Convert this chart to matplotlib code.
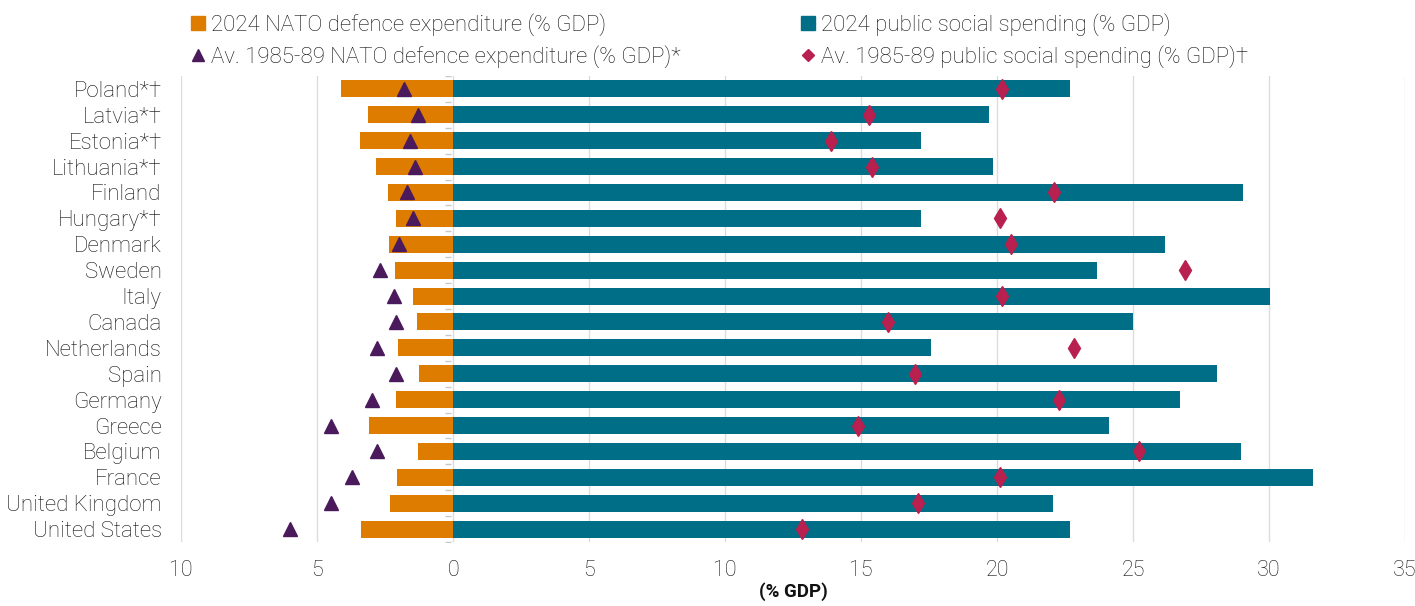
import numpy as np
import matplotlib.pyplot as plt
from matplotlib.lines import Line2D

plt.rcParams['font.family'] = ['Roboto', 'DejaVu Sans']
plt.rcParams['font.weight'] = 'light'

countries = ['Poland*†', 'Latvia*†', 'Estonia*†', 'Lithuania*†', 'Finland', 'Hungary*†',
             'Denmark', 'Sweden', 'Italy', 'Canada', 'Netherlands', 'Spain', 'Germany',
             'Greece', 'Belgium', 'France', 'United Kingdom', 'United States']

# 2024 NATO defence expenditure (% GDP)
defence_2024 = [4.12, 3.14, 3.42, 2.83, 2.40, 2.09, 2.35, 2.13, 1.49, 1.34, 2.04, 1.27,
                2.11, 3.08, 1.29, 2.06, 2.33, 3.38]
# average 1985-89 defence expenditure (% GDP)
defence_8589 = [1.80, 1.30, 1.59, 1.39, 1.68, 1.49, 2.00, 2.67, 2.19, 2.09, 2.80, 2.09,
                3.00, 4.50, 2.80, 3.70, 4.50, 5.99]
# 2024 public social spending (% GDP)
social_2024 = [22.69, 19.69, 17.20, 19.85, 29.04, 17.20, 26.18, 23.67, 30.04, 24.98, 17.56,
               28.08, 26.72, 24.12, 28.97, 31.62, 22.07, 22.67]
# average 1985-89 public social spending (% GDP)
social_8589 = [20.19, 15.29, 13.89, 15.41, 22.10, 20.09, 20.50, 26.89, 20.19, 15.99, 22.81,
               16.99, 22.29, 14.89, 25.20, 20.09, 17.08, 12.81]

orange = '#DE7C00'
teal = '#006E87'
purple = '#4A1A5C'
crimson = '#B8204F'
grid_c = '#DCDCDC'
text_c = '#111111'

fig = plt.figure(figsize=(14.15, 6.06), dpi=100)
ax = fig.add_axes([0.128, 0.1056, 0.865, 0.769])

y = np.arange(len(countries))
h = 0.66

# defence drawn to the left of zero, social spending to the right
ax.barh(y, -np.array(defence_2024), height=h, color=orange, zorder=2)
ax.barh(y, social_2024, height=h, color=teal, zorder=2)
ax.plot(-np.array(defence_8589), y, linestyle='none', marker='^', markersize=9.5,
        color=purple, zorder=3)
ax.plot(social_8589, y, linestyle='none', marker='d', markersize=10,
        color=crimson, zorder=3)

# little tick marks between rows along the zero line
ax.plot(np.full(len(countries) + 1, -0.2), np.arange(-0.5, len(countries)), linestyle='none',
        marker='_', markersize=5, color='#C8C8C8', zorder=1)

ax.set_xlim(-10, 35)
ax.set_ylim(len(countries) - 0.5, -0.5)
ticks = np.arange(-10, 36, 5)
ax.set_xticks(ticks)
ax.set_xticklabels([str(abs(t)) for t in ticks], fontsize=15.5, color=text_c)
ax.set_yticks(y)
ax.set_yticklabels(countries, fontsize=16, color=text_c)
ax.tick_params(axis='both', length=0)
ax.tick_params(axis='x', pad=13)
ax.tick_params(axis='y', pad=14)
ax.xaxis.grid(True, color=grid_c, linewidth=1, zorder=0)
ax.set_axisbelow(True)
for s in ax.spines.values():
    s.set_visible(False)

ax.set_xlabel('(% GDP)', fontsize=13.5, fontweight='bold', labelpad=1, color=text_c)

handles = [
    Line2D([], [], linestyle='none', marker='s', markersize=10, color=orange),
    Line2D([], [], linestyle='none', marker='^', markersize=8, color=purple),
    Line2D([], [], linestyle='none', marker='s', markersize=10, color=teal),
    Line2D([], [], linestyle='none', marker='D', markersize=6, color=crimson),
]
labels = ['2024 NATO defence expenditure (% GDP)',
          'Av. 1985-89 NATO defence expenditure (% GDP)*',
          '2024 public social spending (% GDP)',
          'Av. 1985-89 public social spending (% GDP)†']
leg = fig.legend(handles, labels, ncol=2, loc='upper left', bbox_to_anchor=(0.129, 0.993),
                 frameon=False, fontsize=16, handlelength=0.6, handletextpad=0.3,
                 columnspacing=5.4, labelspacing=0.42, borderaxespad=0)
for t in leg.get_texts():
    t.set_color(text_c)

fig.savefig('out.png', dpi=100)
